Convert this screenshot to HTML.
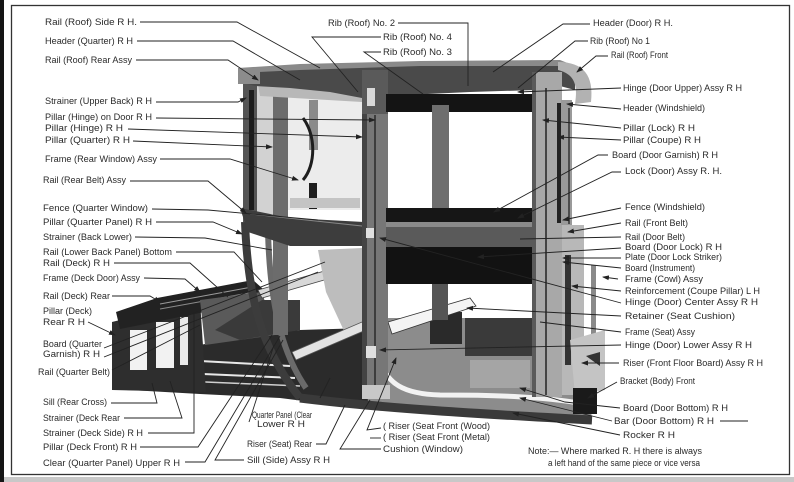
<!DOCTYPE html>
<html><head><meta charset="utf-8">
<style>
html,body{margin:0;padding:0;background:#fff;}
svg{display:block;}
text{font-family:"Liberation Sans",sans-serif;font-size:9px;fill:#2a2a2a;}
.l{fill:none;stroke:#222;stroke-width:0.9;}
</style></head><body>
<svg width="794" height="482" viewBox="0 0 794 482" xmlns="http://www.w3.org/2000/svg">
<defs>
<marker id="a" markerWidth="7" markerHeight="6" refX="6" refY="3" orient="auto" markerUnits="userSpaceOnUse"><path d="M0,0.5 L7,3 L0,5.5z" fill="#222"/></marker>
</defs>
<rect width="794" height="482" fill="#fff"/>
<!-- scan edges / frame -->
<rect x="0" y="0" width="4" height="482" fill="#151515"/>
<rect x="11.5" y="5.5" width="778" height="469" fill="none" stroke="#333" stroke-width="1.3"/>
<rect x="4" y="477" width="790" height="5" fill="#c8c8c8"/>

<!-- ===== BODY ===== -->
<!-- floor left dark -->
<polygon points="130,380 200,345 250,335 300,330 366,328 368,402 320,403 280,398 200,394 130,390" fill="#2b2b2b"/>
<line x1="200" y1="361" x2="290" y2="366" stroke="#e8e8e8" stroke-width="2"/>
<line x1="203" y1="374" x2="295" y2="378" stroke="#e8e8e8" stroke-width="2"/>
<line x1="135" y1="379" x2="300" y2="386" stroke="#cfcfcf" stroke-width="1.5"/>
<!-- deck rear frame -->
<polygon points="112,322 200,300 206,392 112,390" fill="#2e2e2e"/>
<rect x="130" y="330" width="17" height="40" fill="#f2f2f2"/>
<rect x="156" y="322" width="18" height="46" fill="#f2f2f2"/>
<rect x="180" y="317" width="8" height="48" fill="#eaeaea"/>
<!-- deck lid -->
<polygon points="116,312 157,298 253,280 263,289 259,301 120,329" fill="#222"/>
<line x1="160" y1="304" x2="252" y2="287" stroke="#9a9a9a" stroke-width="1"/>
<line x1="160" y1="309" x2="254" y2="292" stroke="#8a8a8a" stroke-width="1"/>
<!-- deck middle region -->
<polygon points="200,300 262,292 275,335 205,345" fill="#5a5a5a"/>
<polygon points="215,330 262,300 300,300 300,330 240,340" fill="#3a3a3a"/>
<!-- rail deck bar -->
<polygon points="258,290 335,268 338,276 262,298" fill="#d8d8d8" stroke="#444" stroke-width="0.8"/>

<!-- rear cushion light -->
<polygon points="318,250 362,248 363,332 345,333 326,292" fill="#bdbdbd"/>
<!-- seat frame light diagonal -->
<polygon points="292,352 362,322 366,330 296,360" fill="#e2e2e2" stroke="#555" stroke-width="0.8"/>

<!-- quarter curves -->
<path d="M245,222 C248,300 262,350 300,398" fill="none" stroke="#3c3c3c" stroke-width="8"/>
<path d="M268,232 C270,300 280,350 306,388" fill="none" stroke="#6a6a6a" stroke-width="6"/>

<!-- left pillars -->
<rect x="257" y="84" width="16" height="130" fill="#d2d2d2"/>
<rect x="243" y="76" width="14" height="146" fill="#555"/>
<rect x="249" y="90" width="5" height="120" fill="#1c1c1c"/>
<rect x="273" y="80" width="15" height="255" fill="#6c6c6c"/>
<!-- rear window area -->
<rect x="288" y="92" width="74" height="118" fill="#ececec"/>
<polygon points="258,84 362,94 362,102 260,96" fill="#b8b8b8"/>
<rect x="309" y="100" width="9" height="50" fill="#8a8a8a"/>
<rect x="309" y="183" width="8" height="26" fill="#1e1e1e"/>
<path d="M303,118 C316,135 316,165 303,180" fill="none" stroke="#1e1e1e" stroke-width="3"/>
<rect x="290" y="198" width="70" height="10" fill="#c4c4c4"/>
<!-- left belt rail -->
<polygon points="240,208 290,218 364,222 364,246 290,246 248,232" fill="#3d3d3d"/>
<line x1="250" y1="214" x2="362" y2="226" stroke="#888" stroke-width="1"/>

<!-- lower right floor / seat -->
<polygon points="386,318 532,318 578,330 592,418 560,422 480,414 400,408 368,402 366,330" fill="#8c8c8c"/>
<polygon points="465,318 532,318 532,356 465,356" fill="#3a3a3a"/>
<polygon points="430,312 462,312 462,344 430,344" fill="#2a2a2a"/>
<polygon points="388,322 470,298 476,306 392,334" fill="#f4f4f4" stroke="#333" stroke-width="0.8"/>
<rect x="432" y="283" width="16" height="37" fill="#555"/>
<path d="M378,356 C386,385 405,394 440,395 C490,395 540,396 585,404" fill="none" stroke="#f2f2f2" stroke-width="5"/>
<path d="M300,398 C380,408 480,414 592,420" fill="none" stroke="#3a3a3a" stroke-width="9"/>
<rect x="470" y="360" width="60" height="28" fill="#a5a5a5"/>

<!-- roof -->
<polygon points="238,70 300,66 420,63 560,62 575,66 575,90 560,86 535,90 470,92 385,96 362,98 330,92 290,88 255,86 240,82" fill="#4a4a4a"/>
<polygon points="238,68 300,64 420,61 560,60 570,64 560,66 420,66 300,70 240,73" fill="#8a8a8a"/>
<rect x="238" y="68" width="22" height="16" fill="#8c8c8c"/>
<path d="M558,62 C584,62 594,76 591,102 L575,104 C578,86 575,74 558,70z" fill="#b2b2b2"/>

<!-- center hinge pillar -->
<rect x="362" y="70" width="26" height="326" fill="#777"/>
<rect x="362" y="70" width="5" height="326" fill="#444"/>
<rect x="362" y="70" width="26" height="44" fill="#5a5a5a"/>
<rect x="367" y="88" width="8" height="18" fill="#d8d8d8"/>
<line x1="375" y1="115" x2="375" y2="395" stroke="#2a2a2a" stroke-width="1.5"/>
<rect x="366" y="228" width="8" height="10" fill="#e0e0e0"/>
<rect x="366" y="346" width="10" height="12" fill="#e0e0e0"/>
<rect x="362" y="385" width="28" height="14" fill="#c8c8c8"/>

<!-- windshield frame -->
<rect x="386" y="94" width="148" height="18" fill="#141414"/>
<rect x="432" y="105" width="17" height="104" fill="#6e6e6e"/>
<rect x="386" y="208" width="147" height="14" fill="#161616"/>
<rect x="386" y="222" width="147" height="25" fill="#5a5a5a"/>
<rect x="386" y="222" width="147" height="5" fill="#8a8a8a"/>
<rect x="386" y="247" width="146" height="37" fill="#121212"/>

<!-- right door pillar -->
<rect x="532" y="72" width="30" height="325" fill="#a8a8a8"/>
<rect x="532" y="72" width="4" height="325" fill="#5a5a5a"/>
<line x1="546" y1="88" x2="546" y2="395" stroke="#222" stroke-width="1.5"/>
<rect x="557" y="103" width="4" height="120" fill="#222"/>
<rect x="561" y="100" width="11" height="125" fill="#9a9a9a"/>
<line x1="569" y1="108" x2="569" y2="224" stroke="#333" stroke-width="1.5"/>
<!-- cowl -->
<rect x="562" y="225" width="22" height="170" fill="#b8b8b8"/>
<rect x="565" y="255" width="6" height="110" fill="#333"/>
<rect x="591" y="265" width="5" height="80" fill="#8a8a8a"/>
<polygon points="570,340 605,330 605,390 575,395" fill="#c4c4c4"/>
<polygon points="586,356 600,352 600,366" fill="#333"/>
<rect x="573" y="388" width="24" height="26" fill="#1a1a1a"/>

<!-- ===== LEADERS ===== -->
<g class="l">
<polyline points="140,22 237,22 320,68"/>
<polyline points="137,41 233,41 300,80"/>
<polyline points="136,60 228,60 258,80" marker-end="url(#a)"/>
<polyline points="156,102 238,102 246,98" marker-end="url(#a)"/>
<polyline points="156,118 375,120" marker-end="url(#a)"/>
<polyline points="128,129 362,137" marker-end="url(#a)"/>
<polyline points="133,141 272,147" marker-end="url(#a)"/>
<polyline points="160,159 230,159 298,180" marker-end="url(#a)"/>
<polyline points="130,181 208,181 246,213" marker-end="url(#a)"/>
<polyline points="152,209 208,210 318,220"/>
<polyline points="156,222 213,222 242,234" marker-end="url(#a)"/>
<polyline points="135,237 205,238 272,250"/>
<polyline points="176,252 234,252 262,282"/>
<polyline points="114,263 190,263 228,297"/>
<polyline points="144,278 185,279 200,292" marker-end="url(#a)"/>
<polyline points="112,296 150,296 160,302" marker-end="url(#a)"/>
<polyline points="88,322 115,335" marker-end="url(#a)"/>
<polyline points="104,348 325,262"/>
<polyline points="104,357 318,272"/>
<polyline points="112,370 200,325"/>
<polyline points="111,403 157,403 152,383"/>
<polyline points="124,418 182,418 170,381"/>
<polyline points="148,433 194,433 194,305"/>
<polyline points="140,447 198,447 272,335"/>
<polyline points="185,462 205,462 280,336"/>
<polyline points="249,422 274,345"/>
<polyline points="320,398 330,378"/>
<polyline points="316,444 326,444 345,405"/>
<polyline points="244,460 215,460 283,340"/>
<polyline points="381,428 367,430 396,358" marker-end="url(#a)"/>
<polyline points="381,438 370,438"/>
<polyline points="381,449 340,449 370,400"/>
<polyline points="398,23 468,23 468,86"/>
<polyline points="381,37 312,37 358,92"/>
<polyline points="381,52 364,52 423,94"/>
<polyline points="590,24 563,24 493,72"/>
<polyline points="588,41 575,41 518,88"/>
<polyline points="608,56 596,56 577,72" marker-end="url(#a)"/>
<polyline points="621,88 518,92" marker-end="url(#a)"/>
<polyline points="621,109 567,104" marker-end="url(#a)"/>
<polyline points="621,128 543,120" marker-end="url(#a)"/>
<polyline points="621,140 558,137" marker-end="url(#a)"/>
<polyline points="608,155 598,155 494,212" marker-end="url(#a)"/>
<polyline points="621,172 612,172 518,218" marker-end="url(#a)"/>
<polyline points="621,208 563,220" marker-end="url(#a)"/>
<polyline points="621,223 568,232" marker-end="url(#a)"/>
<polyline points="621,237 520,239"/>
<polyline points="621,248 478,257" marker-end="url(#a)"/>
<polyline points="621,258 563,258" marker-end="url(#a)"/>
<polyline points="621,268 563,262" marker-end="url(#a)"/>
<polyline points="618,279 603,277" marker-end="url(#a)"/>
<polyline points="621,291 572,286" marker-end="url(#a)"/>
<polyline points="621,303 380,238" marker-end="url(#a)"/>
<polyline points="621,316 467,308" marker-end="url(#a)"/>
<polyline points="621,332 540,322"/>
<polyline points="621,345 380,350" marker-end="url(#a)"/>
<polyline points="619,363 582,363" marker-end="url(#a)"/>
<polyline points="617,382 588,398" marker-end="url(#a)"/>
<polyline points="620,408 565,402 520,388" marker-end="url(#a)"/>
<polyline points="612,421 520,398" marker-end="url(#a)"/>
<polyline points="720,421 748,421"/>
<polyline points="620,435 513,413" marker-end="url(#a)"/>
</g>

<!-- ===== LABELS ===== -->
<g>
<text x="45" y="25" textLength="92" lengthAdjust="spacingAndGlyphs">Rail (Roof) Side R  H.</text>
<text x="45" y="44" textLength="88" lengthAdjust="spacingAndGlyphs">Header (Quarter) R  H</text>
<text x="45" y="63" textLength="87" lengthAdjust="spacingAndGlyphs">Rail (Roof) Rear Assy</text>
<text x="45" y="104" textLength="107" lengthAdjust="spacingAndGlyphs">Strainer (Upper Back) R  H</text>
<text x="45" y="120" textLength="107" lengthAdjust="spacingAndGlyphs">Pillar (Hinge) on Door R  H</text>
<text x="45" y="131" textLength="78" lengthAdjust="spacingAndGlyphs">Pillar (Hinge) R  H</text>
<text x="45" y="143" textLength="85" lengthAdjust="spacingAndGlyphs">Pillar (Quarter) R  H</text>
<text x="45" y="162" textLength="112" lengthAdjust="spacingAndGlyphs">Frame (Rear Window) Assy</text>
<text x="43" y="183" textLength="83" lengthAdjust="spacingAndGlyphs">Rail (Rear Belt) Assy</text>
<text x="43" y="211" textLength="105" lengthAdjust="spacingAndGlyphs">Fence (Quarter Window)</text>
<text x="43" y="225" textLength="109" lengthAdjust="spacingAndGlyphs">Pillar (Quarter Panel) R  H</text>
<text x="43" y="240" textLength="89" lengthAdjust="spacingAndGlyphs">Strainer (Back Lower)</text>
<text x="43" y="255" textLength="129" lengthAdjust="spacingAndGlyphs">Rail (Lower Back Panel) Bottom</text>
<text x="43" y="266" textLength="67" lengthAdjust="spacingAndGlyphs">Rail (Deck) R  H</text>
<text x="43" y="281" textLength="97" lengthAdjust="spacingAndGlyphs">Frame (Deck Door) Assy</text>
<text x="43" y="299" textLength="67" lengthAdjust="spacingAndGlyphs">Rail (Deck) Rear</text>
<text x="43" y="314" textLength="49" lengthAdjust="spacingAndGlyphs">Pillar (Deck)</text>
<text x="43" y="325" textLength="42" lengthAdjust="spacingAndGlyphs">Rear R  H</text>
<text x="43" y="347" textLength="59" lengthAdjust="spacingAndGlyphs">Board (Quarter</text>
<text x="43" y="357" textLength="57" lengthAdjust="spacingAndGlyphs">Garnish) R  H</text>
<text x="38" y="375" textLength="72" lengthAdjust="spacingAndGlyphs">Rail (Quarter Belt)</text>
<text x="43" y="405" textLength="64" lengthAdjust="spacingAndGlyphs">Sill (Rear Cross)</text>
<text x="43" y="421" textLength="77" lengthAdjust="spacingAndGlyphs">Strainer (Deck Rear</text>
<text x="43" y="436" textLength="100" lengthAdjust="spacingAndGlyphs">Strainer (Deck Side) R  H</text>
<text x="43" y="450" textLength="94" lengthAdjust="spacingAndGlyphs">Pillar (Deck Front) R  H</text>
<text x="43" y="466" textLength="137" lengthAdjust="spacingAndGlyphs">Clear (Quarter Panel) Upper R  H</text>

<text x="252" y="418" textLength="60" lengthAdjust="spacingAndGlyphs">Quarter Panel (Clear</text>
<text x="257" y="427" textLength="48" lengthAdjust="spacingAndGlyphs">Lower R  H</text>
<text x="247" y="447" textLength="65" lengthAdjust="spacingAndGlyphs">Riser (Seat) Rear</text>
<text x="247" y="463" textLength="83" lengthAdjust="spacingAndGlyphs">Sill (Side) Assy R  H</text>
<text x="383" y="429" textLength="107" lengthAdjust="spacingAndGlyphs">( Riser (Seat Front (Wood)</text>
<text x="383" y="440" textLength="107" lengthAdjust="spacingAndGlyphs">( Riser (Seat Front (Metal)</text>
<text x="383" y="452" textLength="80" lengthAdjust="spacingAndGlyphs">Cushion (Window)</text>

<text x="328" y="26" textLength="67" lengthAdjust="spacingAndGlyphs">Rib (Roof) No. 2</text>
<text x="383" y="40" textLength="69" lengthAdjust="spacingAndGlyphs">Rib (Roof) No. 4</text>
<text x="383" y="55" textLength="69" lengthAdjust="spacingAndGlyphs">Rib (Roof) No. 3</text>

<text x="593" y="26" textLength="80" lengthAdjust="spacingAndGlyphs">Header (Door) R  H.</text>
<text x="590" y="44" textLength="60" lengthAdjust="spacingAndGlyphs">Rib (Roof) No 1</text>
<text x="611" y="58" textLength="57" lengthAdjust="spacingAndGlyphs">Rail (Roof) Front</text>
<text x="623" y="91" textLength="119" lengthAdjust="spacingAndGlyphs">Hinge (Door Upper) Assy R  H</text>
<text x="623" y="111" textLength="82" lengthAdjust="spacingAndGlyphs">Header (Windshield)</text>
<text x="623" y="131" textLength="72" lengthAdjust="spacingAndGlyphs">Pillar (Lock) R  H</text>
<text x="623" y="143" textLength="78" lengthAdjust="spacingAndGlyphs">Pillar (Coupe) R  H</text>
<text x="612" y="158" textLength="106" lengthAdjust="spacingAndGlyphs">Board (Door Garnish) R  H</text>
<text x="625" y="174" textLength="97" lengthAdjust="spacingAndGlyphs">Lock (Door) Assy R. H.</text>
<text x="625" y="210" textLength="80" lengthAdjust="spacingAndGlyphs">Fence (Windshield)</text>
<text x="625" y="226" textLength="63" lengthAdjust="spacingAndGlyphs">Rail (Front Belt)</text>
<text x="625" y="240" textLength="60" lengthAdjust="spacingAndGlyphs">Rail (Door Belt)</text>
<text x="625" y="250" textLength="97" lengthAdjust="spacingAndGlyphs">Board (Door Lock) R  H</text>
<text x="625" y="260" textLength="97" lengthAdjust="spacingAndGlyphs">Plate (Door Lock Striker)</text>
<text x="625" y="271" textLength="70" lengthAdjust="spacingAndGlyphs">Board (Instrument)</text>
<text x="625" y="282" textLength="78" lengthAdjust="spacingAndGlyphs">Frame (Cowl) Assy</text>
<text x="625" y="294" textLength="135" lengthAdjust="spacingAndGlyphs">Reinforcement (Coupe Pillar) L  H</text>
<text x="625" y="305" textLength="133" lengthAdjust="spacingAndGlyphs">Hinge (Door) Center Assy R  H</text>
<text x="625" y="319" textLength="110" lengthAdjust="spacingAndGlyphs">Retainer (Seat Cushion)</text>
<text x="625" y="335" textLength="70" lengthAdjust="spacingAndGlyphs">Frame (Seat) Assy</text>
<text x="625" y="348" textLength="127" lengthAdjust="spacingAndGlyphs">Hinge (Door) Lower Assy R  H</text>
<text x="623" y="366" textLength="140" lengthAdjust="spacingAndGlyphs">Riser (Front Floor Board) Assy R  H</text>
<text x="620" y="384" textLength="75" lengthAdjust="spacingAndGlyphs">Bracket (Body) Front</text>
<text x="623" y="411" textLength="105" lengthAdjust="spacingAndGlyphs">Board (Door Bottom) R  H</text>
<text x="614" y="424" textLength="100" lengthAdjust="spacingAndGlyphs">Bar (Door Bottom) R  H</text>
<text x="623" y="438" textLength="52" lengthAdjust="spacingAndGlyphs">Rocker R  H</text>
<text x="528" y="454" textLength="174" lengthAdjust="spacingAndGlyphs">Note:— Where marked R. H there is always</text>
<text x="548" y="466" textLength="152" lengthAdjust="spacingAndGlyphs">a left hand of the same piece or vice versa</text>
</g>
</svg>
</body></html>
